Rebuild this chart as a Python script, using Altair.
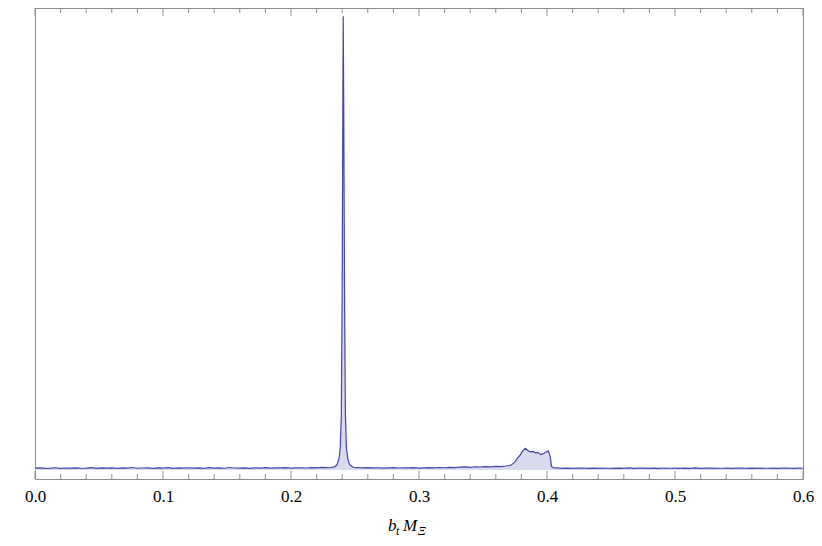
import altair as alt
import pandas as pd
import numpy as np

# ---- data (arbitrary units, spike height = 100) ----
base_a_start, base_a_step = 0.0, 0.004
base_a_vals = [0.40,0.45,0.38,0.42,0.50,0.36,0.44,0.41,0.47,0.39,
               0.43,0.52,0.37,0.45,0.40,0.48,0.35,0.46,0.42,0.55,
               0.39,0.44,0.49,0.38,0.47,0.41,0.53,0.36,0.45,0.43,
               0.50,0.40,0.46,0.38,0.52,0.42,0.47,0.39,0.55,0.44,
               0.41,0.49,0.37,0.46,0.43,0.51,0.40,0.48,0.45,0.54,
               0.42,0.47,0.50,0.44,0.52,0.48,0.56,0.53]

peak_x = [0.2300,0.2340,0.2360,0.2375,0.2385,0.2393,0.2400,0.2405,0.2408,
          0.2412,0.2418,0.2425,0.2433,0.2443,0.2458,0.2480,0.2500]
peak_v = [0.5,0.7,1.2,2.5,5.0,12.0,40.0,80.0,100.0,
          80.0,40.0,12.0,5.0,2.5,1.2,0.7,0.5]

base_b_start, base_b_step = 0.252, 0.004
base_b_vals = [0.55,0.48,0.52,0.45,0.50,0.43,0.47,0.52,0.44,0.49,
               0.46,0.51,0.43,0.48,0.53,0.47,0.55,0.50,0.58,0.52,
               0.62,0.68,0.60,0.72,0.66,0.75,0.70,0.80,0.76,0.88]

bump_x = [0.372,0.375,0.377,0.379,0.381,0.383,0.385,0.387,0.389,0.391,
          0.393,0.395,0.397,0.399,0.401,0.4025,0.4035,0.405]
bump_v = [1.1,1.8,2.6,3.3,4.2,4.8,4.3,4.0,4.1,3.8,
          3.9,3.4,3.6,3.9,4.2,3.0,0.8,0.5]

base_c_start, base_c_step = 0.408, 0.004
base_c_vals = [0.45,0.38,0.42,0.35,0.40,0.44,0.37,0.41,0.36,0.43,
               0.39,0.34,0.42,0.38,0.45,0.36,0.40,0.43,0.37,0.41,
               0.35,0.44,0.39,0.42,0.36,0.40,0.38,0.45,0.37,0.41,
               0.43,0.36,0.39,0.42,0.35,0.40,0.44,0.38,0.41,0.36,
               0.43,0.39,0.42,0.37,0.40,0.44,0.38,0.41,0.39]

major_ticks = [0.0, 0.1, 0.2, 0.3, 0.4, 0.5, 0.6]
minor_ticks = [0.02,0.04,0.06,0.08,0.12,0.14,0.16,0.18,0.22,0.24,0.26,0.28,
               0.32,0.34,0.36,0.38,0.42,0.44,0.46,0.48,0.52,0.54,0.56,0.58]

def grid(start, step, vals):
    return [round(start + i * step, 4) for i in range(len(vals))]

xs = (grid(base_a_start, base_a_step, base_a_vals) + peak_x +
      grid(base_b_start, base_b_step, base_b_vals) + bump_x +
      grid(base_c_start, base_c_step, base_c_vals))
vs = base_a_vals + peak_v + base_b_vals + bump_v + base_c_vals
df = pd.DataFrame({"x": xs, "v": vs, "zero": 0.0}).sort_values("x")

W, H = 768, 471
LINE = "#4444aa"
FILL = "#dadaee"
FRAME = "#8c8c8c"
SERIF = "Liberation Serif, Times New Roman, serif"

xscale = alt.Scale(domain=[0, 0.6], nice=False, zero=False)
yscale = alt.Scale(domain=[-1.98, 101.8], nice=False, zero=False)

xaxis = alt.Axis(values=major_ticks, format=".1f", grid=False, domain=False,
                 ticks=False, labelFont=SERIF, labelFontSize=17,
                 labelColor="#000000", labelPadding=9, title=None,
                 labelFlush=False)

base = alt.Chart(df)
area = base.mark_area(color=FILL, opacity=1).encode(
    x=alt.X("x:Q", scale=xscale, axis=xaxis),
    y=alt.Y("v:Q", scale=yscale, axis=None),
    y2="zero:Q",
)
line = base.mark_line(color=LINE, strokeWidth=1.2).encode(
    x=alt.X("x:Q", scale=xscale),
    y=alt.Y("v:Q", scale=yscale),
)

maj_df = pd.DataFrame({"t": major_ticks})
min_df = pd.DataFrame({"t": minor_ticks})

def ticks(d, y0, y1):
    return alt.Chart(d).mark_rule(color=FRAME, strokeWidth=1).encode(
        x=alt.X("t:Q", scale=xscale), y=alt.value(y0), y2=alt.value(y1))

tick_layers = [ticks(maj_df, H, H - 8), ticks(min_df, H, H - 5),
               ticks(maj_df, 0, 8), ticks(min_df, 0, 5)]

def txt(s, x, y, size):
    return alt.Chart(pd.DataFrame({"s": [s]})).mark_text(
        font=SERIF, fontSize=size, fontStyle="italic",
        color="#000000", align="left", baseline="alphabetic").encode(
        x=alt.value(x), y=alt.value(y), text="s:N")

title_layers = [txt("b", 353, 523, 17), txt("t", 361, 527, 12),
                txt("M", 368, 523, 17), txt("Ξ", 383, 527, 12)]

chart = alt.layer(area, line, *tick_layers, *title_layers).properties(
    width=W, height=H,
    padding={"left": 27, "right": 11, "top": 0, "bottom": 59},
    autosize=alt.AutoSizeParams(type="none"),
).configure_view(stroke=FRAME, strokeWidth=1)

chart.save("out.html", embed_options={"renderer": "svg", "actions": False})
